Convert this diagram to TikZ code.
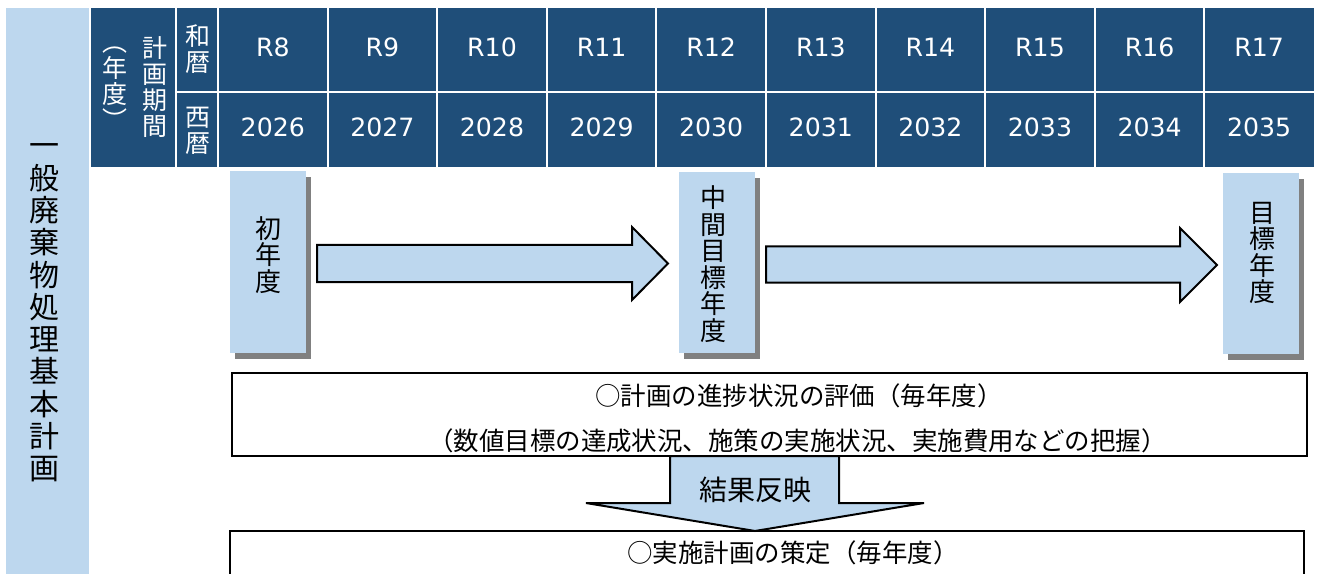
\documentclass[tikz,border=0pt]{standalone}
\usepackage{fontspec}
\setmainfont{DejaVu Sans}
\newfontfamily\jp{Noto Sans CJK JP}
\usetikzlibrary{shadows}
\definecolor{hdr}{HTML}{1F4E79}
\definecolor{lblue}{HTML}{BDD7EE}
\definecolor{shadowgray}{HTML}{808080}
\tikzset{
  hdrtxt/.style={text=white, inner sep=0pt, font=\fontsize{18.9pt}{22pt}\selectfont},
  hdrjp/.style={text=white, inner sep=0pt, align=center, font=\jp\fontsize{18.75pt}{19.5pt}\selectfont},
  vtxt/.style={inner sep=0pt, align=center, font=\jp\fontsize{19.5pt}{19.9pt}\selectfont},
  sidetxt/.style={inner sep=0pt, align=center, font=\jp\fontsize{22.5pt}{24.2pt}\selectfont},
  bodytxt/.style={inner sep=0pt, font=\jp\fontsize{19.1pt}{22pt}\selectfont},
  arrowtxt/.style={inner sep=0pt, font=\jp\fontsize{21pt}{24pt}\selectfont},
  bluebox/.style={fill=lblue, inner sep=0pt, minimum width=57pt,
    drop shadow={shadow xshift=3.75pt, shadow yshift=-4.5pt, fill=shadowgray, opacity=1}},
  framebox/.style={draw=black, line width=1.5pt, fill=white},
  blockarrow/.style={draw=black, line width=1.5pt, fill=lblue, line join=miter},
  gridline/.style={draw=white, line width=1.5pt}
}
\begin{document}
\begin{tikzpicture}[x=0.75pt,y=-0.75pt]
\useasboundingbox (0,0) rectangle (1318,574);
\clip (0,0) rectangle (1318,574);
\fill[white] (0,0) rectangle (1318,574);

% left column
\fill[lblue] (6,8) rectangle (89,590);
\node[sidetxt] (side) at (45,313) {一\\般\\廃\\棄\\物\\処\\理\\基\\本\\計\\画};

% header
\fill[hdr] (91,8) rectangle (1314,167);
\draw[gridline] (176,8) -- (176,167);
\draw[gridline] (218,8) -- (218,167);
\draw[gridline] (176,92) -- (1314,92);
\foreach \i in {1,...,9} {
  \draw[gridline] ({218+109.6*\i},8) -- ({218+109.6*\i},167);
}
\node[hdrjp] (keikaku) at (155,87) {計\\画\\期\\間};
\node[hdrjp] (nendo) at (115,88) {︵\\年\\度\\︶};
\node[hdrjp] (wareki) at (198,49.5) {和\\暦};
\node[hdrjp] (seireki) at (198,130.5) {西\\暦};
\foreach \i in {0,...,9} {
  \pgfmathtruncatemacro\era{8+\i}
  \pgfmathtruncatemacro\yr{2026+\i}
  \node[hdrtxt] (era\i) at ({218+109.6*(\i+0.5)},47) {R\era};
  \node[hdrtxt] (year\i) at ({218+109.6*(\i+0.5)},127) {\yr};
}

% blue milestone boxes
\node[bluebox, minimum height=136.5pt] (b1) at (268,262) {};
\node[bluebox, minimum height=135.75pt] (b2) at (717,262.5) {};
\node[bluebox, minimum height=135.75pt] (b3) at (1261,263.5) {};
\node[vtxt] (first) at (268,255) {初\\年\\度};
\node[vtxt] (mid) at (713,264) {中\\間\\目\\標\\年\\度};
\node[vtxt] (goal) at (1262,253) {目\\標\\年\\度};

% horizontal block arrows
\draw[blockarrow] (317,245) -- (632,245) -- (632,227) -- (668,263.5) -- (632,300) -- (632,282) -- (317,282) -- cycle;
\draw[blockarrow] (766,246.5) -- (1180,246.5) -- (1180,228) -- (1217,265) -- (1180,302) -- (1180,282.5) -- (766,282.5) -- cycle;

% bottom boxes
\draw[framebox] (230,531) rectangle (1304,600);
\draw[framebox] (232,373) rectangle (1307,456);
\node[bodytxt] (eval1) at (799,396) {○計画の進捗状況の評価（毎年度）};
\node[bodytxt] (eval2) at (797.5,441) {（数値目標の達成状況、施策の実施状況、実施費用などの把握）};
\node[bodytxt] (plan) at (793,553) {○実施計画の策定（毎年度）};

% down arrow
\draw[blockarrow] (670,456) -- (670,503) -- (586,503) -- (755,531) -- (924,503) -- (839,503) -- (839,456) -- cycle;
\node[arrowtxt] (reflect) at (755,490) {結果反映};
\end{tikzpicture}
\end{document}
